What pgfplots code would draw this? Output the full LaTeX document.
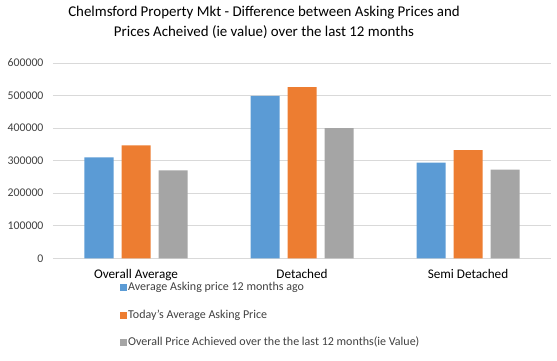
\documentclass[border=0pt]{standalone}
\usepackage{fontspec}
\setmainfont{Carlito}
\usepackage{pgfplots}
\pgfplotsset{compat=1.18}
\definecolor{cblue}{HTML}{5B9BD5}
\definecolor{corange}{HTML}{ED7D31}
\definecolor{cgray}{HTML}{A5A5A5}
\definecolor{cgrid}{HTML}{D9D9D9}
\definecolor{ctext}{HTML}{404040}
\begin{document}
\begin{tikzpicture}
\useasboundingbox (-53pt,-101.7pt) rectangle (504pt,258.3pt);
\begin{axis}[
  scale only axis,
  width=498pt, height=195.3pt,
  ybar=8pt, bar width=29pt,
  xmin=-0.5, xmax=2.5, ymin=0, ymax=600000,
  enlarge x limits=false,
  xtick={0,1,2},
  xticklabels={Overall Average,Detached,Semi Detached},
  ytick={0,100000,200000,300000,400000,500000,600000},
  scaled y ticks=false,
  /pgf/number format/fixed,
  /pgf/number format/1000 sep={},
  /pgf/number format/assume math mode=true,
  ymajorgrids,
  grid style={cgrid, line width=0.9pt},
  axis line style={draw=none},
  major tick length=0pt,
  yticklabel style={font=\fontsize{11.8}{14}\selectfont, text=ctext, xshift=-6pt},
  xticklabel style={font=\fontsize{13.2}{15}\selectfont, text=black, yshift=-7.5pt},
  title={Chelmsford Property Mkt - Difference between Asking Prices and\\Prices Acheived (ie value) over the last 12 months},
  title style={at={(axis description cs:0.4237,1.179)}, anchor=center, align=center, font=\fontsize{14.9}{20}\selectfont},
  legend cell align=left,
  legend style={draw=none, fill=none, at={(axis description cs:0.1345,-0.116)}, anchor=north west,
    font=\fontsize{12}{14}\selectfont, text=ctext, inner sep=0pt, row sep=14.5pt,
    nodes={text height=8.5pt, text depth=2.5pt, inner sep=1pt}},
  legend image code/.code={\fill[#1] (0pt,-3.5pt) rectangle (7pt,3.5pt);},
]
\addplot[fill=cblue, draw=none] coordinates {(0,310000) (1,499000) (2,294000)};
\addlegendentry{Average Asking price 12 months ago}
\addplot[fill=corange, draw=none] coordinates {(0,347000) (1,526000) (2,332000)};
\addlegendentry{Today's Average Asking Price}
\addplot[fill=cgray, draw=none] coordinates {(0,270000) (1,400000) (2,272500)};
\addlegendentry{Overall Price Achieved over the the last 12 months(ie Value)}
\end{axis}
\end{tikzpicture}
\end{document}
